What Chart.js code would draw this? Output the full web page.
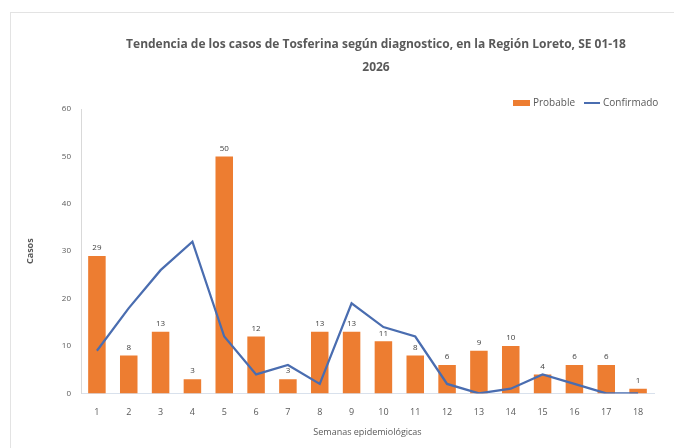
<!DOCTYPE html>
<html lang="es">
<head>
  <meta charset="UTF-8">
  <title>Tendencia de los casos de Tosferina</title>
  <script src="https://cdn.jsdelivr.net/npm/chart.js"></script>
  <style>
    body {
      margin: 0;
      background: #ffffff;
      font-family: "Open Sans", Arial, sans-serif;
    }
    .frame {
      position: absolute;
      left: 10px;
      top: 12px;
      width: 700px;
      height: 460px;
      border: 1px solid #e3e3e3;
    }
    .wrap {
      position: absolute;
      left: 0;
      top: 0;
      width: 674px;
      height: 448px;
    }
  </style>
</head>
<body>
  <div class="frame"></div>
  <div class="wrap">
    <canvas id="chart" width="674" height="448"></canvas>
  </div>

  <script>
    // semanas epidemiologicas
    const semanas = ['1', '2', '3', '4', '5', '6', '7', '8', '9', '10', '11', '12', '13', '14', '15', '16', '17', '18'];
    const probable = [29, 8, 13, 3, 50, 12, 3, 13, 13, 11, 8, 6, 9, 10, 4, 6, 6, 1];
    const confirmado = [9, 18, 26, 32, 12, 4, 6, 2, 19, 14, 12, 2, 0, 1, 4, 2, 0, 0];
    const yTicks = [0, 10, 20, 30, 40, 50, 60];

    const tituloLineas = ['Tendencia de los casos de Tosferina según diagnostico, en la Región Loreto, SE 01-18', '2026'];

    const textColor = '#595959';
    const barColor = '#ED7D31';
    const lineColor = '#4A6DB0';

    // etiquetas de valor encima de las barras
    const barLabels = {
      id: 'barLabels',
      afterDatasetsDraw(chart) {
        const ctx = chart.ctx;
        const meta = chart.getDatasetMeta(0);
        ctx.save();
        ctx.fillStyle = '#404040';
        ctx.font = '8px "Open Sans", sans-serif';
        ctx.textAlign = 'center';
        ctx.textBaseline = 'bottom';
        meta.data.forEach((bar, i) => {
          ctx.fillText(probable[i], bar.x, bar.y - 4);
        });
        ctx.restore();
      }
    };

    // titulo y leyenda al estilo de Excel
    const cabecera = {
      id: 'cabecera',
      afterDraw(chart) {
        const ctx = chart.ctx;
        ctx.save();
        ctx.fillStyle = textColor;
        ctx.font = 'bold 12px "Open Sans", sans-serif';
        ctx.textAlign = 'center';
        ctx.textBaseline = 'middle';
        ctx.fillText(tituloLineas[0], 376, 45);
        ctx.fillText(tituloLineas[1], 376, 68);

        // leyenda
        ctx.font = '10px "Open Sans", sans-serif';
        ctx.textAlign = 'left';
        ctx.fillStyle = barColor;
        ctx.fillRect(513, 100, 17, 6);
        ctx.fillStyle = textColor;
        ctx.fillText(chart.data.datasets[0].label, 533, 103);
        ctx.strokeStyle = lineColor;
        ctx.lineWidth = 2;
        ctx.beginPath();
        ctx.moveTo(584, 103);
        ctx.lineTo(600, 103);
        ctx.stroke();
        ctx.fillText(chart.data.datasets[1].label, 603, 103);
        ctx.restore();
      }
    };

    new Chart(document.getElementById('chart'), {
      data: {
        labels: semanas,
        datasets: [
          {
            type: 'bar',
            label: 'Probable',
            data: probable,
            backgroundColor: barColor,
            borderWidth: 0,
            categoryPercentage: 1,
            barPercentage: 0.55,
            order: 2
          },
          {
            type: 'line',
            label: 'Confirmado',
            data: confirmado,
            borderColor: lineColor,
            backgroundColor: lineColor,
            borderWidth: 2.25,
            pointRadius: 0,
            tension: 0,
            order: 1
          }
        ]
      },
      options: {
        responsive: false,
        animation: false,
        layout: {
          padding: { left: 20, right: 20, top: 109, bottom: 10 }
        },
        plugins: {
          title: { display: false },
          legend: { display: false },
          tooltip: { enabled: false }
        },
        scales: {
          x: {
            grid: { display: false },
            border: { display: true, color: '#d9e1ec', width: 1 },
            ticks: {
              color: textColor,
              font: { family: '"Open Sans", sans-serif', size: 9 },
              padding: 6
            },
            title: {
              display: true,
              text: 'Semanas epidemiológicas',
              color: textColor,
              font: { family: '"Open Sans", sans-serif', size: 9 },
              padding: { top: 3, bottom: 0 }
            }
          },
          y: {
            min: 0,
            max: 60,
            afterBuildTicks(axis) {
              axis.ticks = yTicks.map(v => ({ value: v }));
            },
            grid: { display: false },
            border: { display: true, color: '#d9d9d9', width: 1 },
            ticks: {
              color: textColor,
              font: { family: '"Open Sans", sans-serif', size: 8 },
              padding: 2
            },
            title: {
              display: true,
              text: 'Casos',
              color: textColor,
              font: { family: '"Open Sans", sans-serif', size: 9, weight: 'bold' },
              padding: { top: 5, bottom: 0 }
            },
            afterFit(axis) {
              axis.width = 61;
            }
          }
        }
      },
      plugins: [barLabels, cabecera]
    });
  </script>
</body>
</html>
